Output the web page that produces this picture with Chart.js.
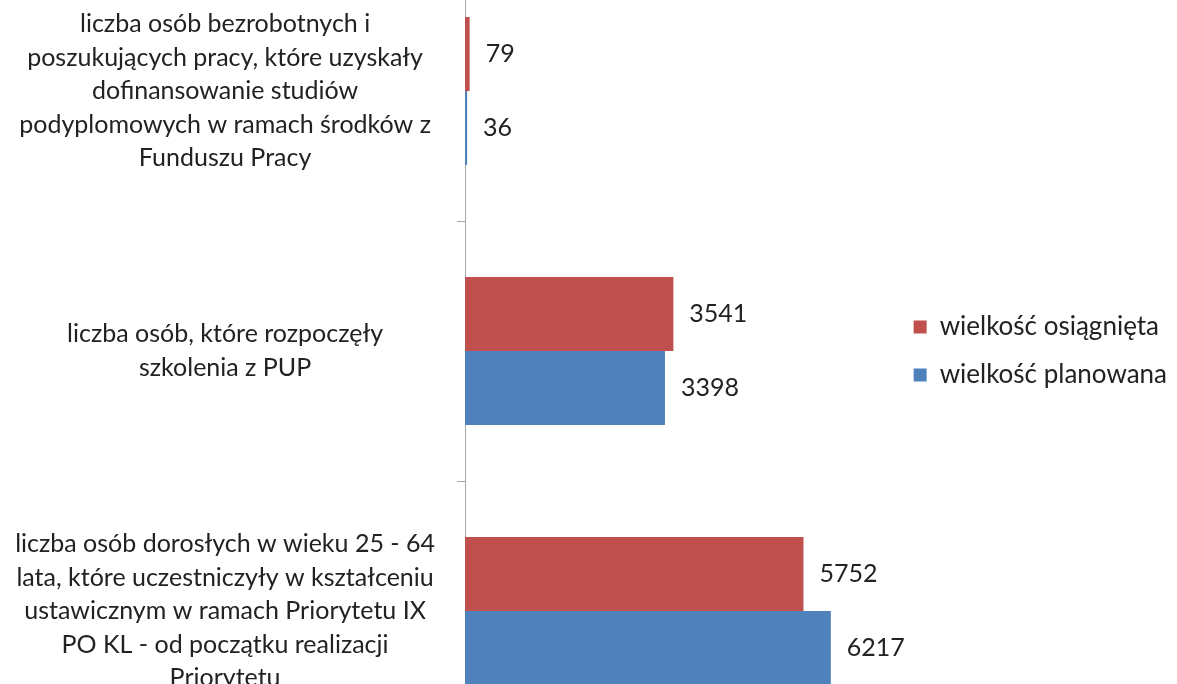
<!DOCTYPE html>
<html lang="pl">
<head>
    <meta charset="UTF-8">
    <title>Wykres</title>
    <script src="https://cdn.jsdelivr.net/npm/chart.js"></script>
    <style>
        html, body {
            margin: 0;
            padding: 0;
            background: #fff;
            overflow: hidden;
            width: 1177px;
            height: 684px;
        }
        #wrap {
            position: absolute;
            left: 0;
            top: -39px;
            width: 1177px;
            height: 780px;
        }
    </style>
</head>
<body>
    <div id="wrap">
        <canvas id="barChart" width="1177" height="780"></canvas>
    </div>

    <script>
        // kategorie (etykiety wieloliniowe)
        const categories = [
            ['liczba osób bezrobotnych i', 'poszukujących pracy, które uzyskały', 'dofinansowanie studiów', 'podyplomowych w ramach środków z', 'Funduszu Pracy'],
            ['liczba osób, które rozpoczęły', 'szkolenia z PUP'],
            ['liczba osób dorosłych w wieku 25 - 64', 'lata, które uczestniczyły w kształceniu', 'ustawicznym w ramach Priorytetu IX', 'PO KL - od początku realizacji', 'Priorytetu']
        ];
        const osiagnieta = [79, 3541, 5752];
        const planowana = [36, 3398, 6217];
        const seriesNames = ['wielkość osiągnięta', 'wielkość planowana'];

        const fontFamily = 'Lato, "Open Sans", sans-serif';

        // etykiety wartości obok słupków
        const valueLabels = {
            id: 'valueLabels',
            afterDatasetsDraw(chart) {
                const ctx = chart.ctx;
                ctx.save();
                ctx.font = '25px ' + fontFamily;
                ctx.fillStyle = '#222';
                ctx.textAlign = 'left';
                ctx.textBaseline = 'middle';
                chart.data.datasets.forEach((ds, i) => {
                    chart.getDatasetMeta(i).data.forEach((bar, j) => {
                        ctx.fillText(ds.data[j], bar.x + 16, bar.y);
                    });
                });
                ctx.restore();
            }
        };

        const ctx = document.getElementById('barChart').getContext('2d');
        new Chart(ctx, {
            type: 'bar',
            data: {
                labels: categories,
                datasets: [{
                    label: seriesNames[0],
                    data: osiagnieta,
                    backgroundColor: '#C0504D',
                    categoryPercentage: 0.57,
                    barPercentage: 1.0
                }, {
                    label: seriesNames[1],
                    data: planowana,
                    backgroundColor: '#4F81BD',
                    categoryPercentage: 0.57,
                    barPercentage: 1.0
                }]
            },
            options: {
                indexAxis: 'y',
                responsive: false,
                animation: false,
                layout: { padding: { left: 0, right: 0, top: 0, bottom: 0 } },
                plugins: {
                    legend: {
                        position: 'right',
                        labels: {
                            boxWidth: 13,
                            boxHeight: 13,
                            padding: 22,
                            color: '#222',
                            font: { family: fontFamily, size: 26 }
                        }
                    },
                    tooltip: { enabled: false }
                },
                scales: {
                    x: {
                        display: false,
                        min: 0,
                        max: 7250
                    },
                    y: {
                        offset: true,
                        border: { color: '#A6A6A6', width: 1 },
                        grid: {
                            offset: true,
                            drawOnChartArea: false,
                            tickLength: 8,
                            color: '#A6A6A6'
                        },
                        ticks: {
                            crossAlign: 'center',
                            padding: 22,
                            color: '#222',
                            font: { family: fontFamily, size: 25, lineHeight: 1.34 }
                        },
                        afterFit(scale) {
                            scale.width = 465;
                            scale.paddingTop = 0;
                            scale.paddingBottom = 0;
                        }
                    }
                }
            },
            plugins: [valueLabels]
        });
    </script>
</body>
</html>
